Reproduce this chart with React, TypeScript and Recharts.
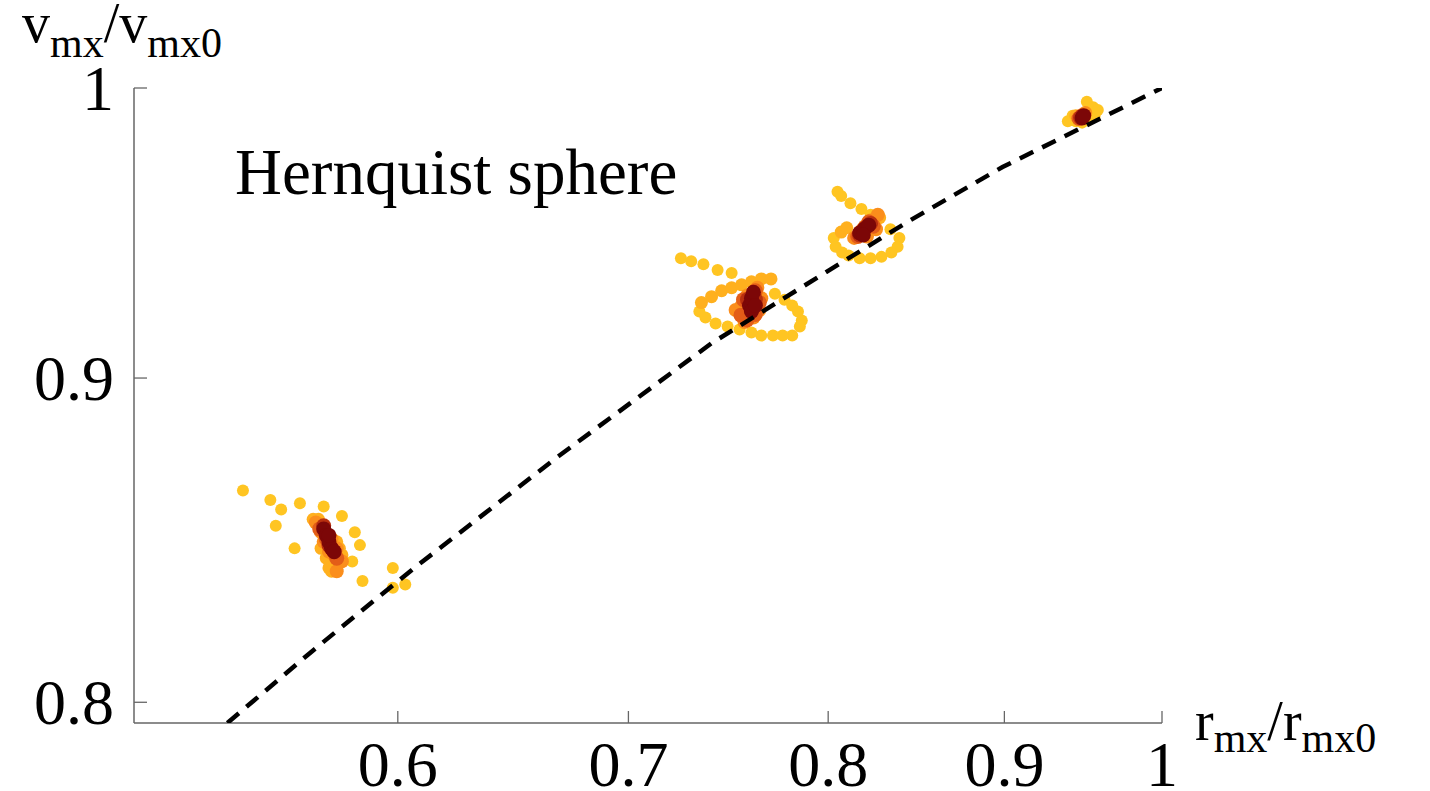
import { ScatterChart, Scatter, XAxis, YAxis, Label, Customized } from "recharts";

// [r_mx/r_mx0, v_mx/v_mx0, stage] — stage 0 is the earliest snapshot, 5 the latest
type TrackPoint = [number, number, number];

const xTicks = [0.6, 0.7, 0.8, 0.9, 1];
const yTicks = [0.8, 0.9, 1];

const stageColors = ["#FFC522", "#FFB01E", "#FB8E1C", "#E35D18", "#B8300F", "#7C0707"];
const stageRadius = [6, 6.5, 7, 7.5, 7.5, 7.5];

const trackA: TrackPoint[] = [
  [0.541, 0.864, 0], [0.551, 0.861, 0], [0.555, 0.858, 0], [0.562, 0.86, 0], [0.571, 0.859, 0],
  [0.553, 0.853, 0], [0.56, 0.846, 0], [0.578, 0.856, 0], [0.583, 0.851, 0], [0.585, 0.847, 0],
  [0.582, 0.842, 0], [0.586, 0.836, 0], [0.598, 0.84, 0], [0.598, 0.834, 0], [0.603, 0.835, 0],
  [0.567, 0.855, 1], [0.569, 0.855, 1], [0.571, 0.853, 1], [0.57, 0.846, 1], [0.572, 0.843, 1],
  [0.573, 0.84, 1], [0.575, 0.84, 1], [0.574, 0.839, 1], [0.578, 0.844, 1], [0.577, 0.846, 1],
  [0.576, 0.848, 1],
  [0.568, 0.854, 2], [0.57, 0.851, 2], [0.571, 0.848, 2], [0.573, 0.845, 2], [0.575, 0.844, 2],
  [0.574, 0.849, 2], [0.576, 0.846, 2], [0.578, 0.842, 2], [0.576, 0.839, 2],
  [0.5695, 0.852, 3], [0.571, 0.852, 3], [0.572, 0.849, 3], [0.574, 0.846, 3], [0.575, 0.845, 3],
  [0.576, 0.843, 3],
  [0.571, 0.853, 4], [0.573, 0.847, 4],
  [0.571, 0.852, 5], [0.572, 0.85, 5], [0.573, 0.848, 5], [0.574, 0.846, 5], [0.575, 0.845, 5],
  [0.573, 0.85, 5],
];

const trackB: TrackPoint[] = [
  [0.725, 0.94, 0], [0.73, 0.939, 0], [0.736, 0.938, 0], [0.743, 0.936, 0], [0.75, 0.935, 0],
  [0.772, 0.928, 0], [0.777, 0.926, 0], [0.781, 0.924, 0], [0.784, 0.922, 0], [0.786, 0.919, 0],
  [0.785, 0.917, 0], [0.781, 0.914, 0], [0.776, 0.914, 0], [0.771, 0.914, 0], [0.765, 0.914, 0],
  [0.76, 0.915, 0], [0.754, 0.916, 0], [0.748, 0.917, 0], [0.742, 0.918, 0], [0.737, 0.92, 0],
  [0.734, 0.922, 0],
  [0.735, 0.925, 1], [0.74, 0.927, 1], [0.745, 0.929, 1], [0.75, 0.93, 1], [0.755, 0.931, 1],
  [0.76, 0.932, 1], [0.765, 0.933, 1], [0.77, 0.933, 1],
  [0.752, 0.9225, 2], [0.7565, 0.9185, 2], [0.755, 0.924, 2], [0.758, 0.921, 2], [0.761, 0.92, 2],
  [0.764, 0.9225, 2], [0.765, 0.9265, 2], [0.763, 0.93, 2], [0.758, 0.9275, 2], [0.756, 0.926, 2],
  [0.7547, 0.9208, 3], [0.7577, 0.9192, 3], [0.756, 0.926, 3], [0.759, 0.922, 3], [0.762, 0.921, 3],
  [0.764, 0.925, 3], [0.762, 0.929, 3], [0.759, 0.9265, 3],
  [0.758, 0.926, 4], [0.76, 0.9225, 4], [0.762, 0.926, 4],
  [0.759, 0.924, 5], [0.76, 0.9265, 5], [0.761, 0.9285, 5], [0.76, 0.922, 5], [0.762, 0.924, 5],
];

const trackC: TrackPoint[] = [
  [0.805, 0.963, 0], [0.807, 0.9615, 0], [0.812, 0.959, 0], [0.818, 0.957, 0], [0.823, 0.955, 0],
  [0.834, 0.95, 0], [0.839, 0.947, 0], [0.838, 0.944, 0], [0.8345, 0.942, 0], [0.829, 0.9405, 0],
  [0.823, 0.94, 0], [0.817, 0.94, 0], [0.811, 0.941, 0], [0.8075, 0.942, 0], [0.804, 0.944, 0],
  [0.803, 0.947, 0],
  [0.807, 0.949, 1], [0.81, 0.9505, 1], [0.828, 0.954, 1],
  [0.814, 0.947, 2], [0.817, 0.949, 2], [0.82, 0.951, 2], [0.823, 0.953, 2], [0.827, 0.955, 2],
  [0.821, 0.9475, 2], [0.826, 0.95, 2],
  [0.816, 0.9475, 3], [0.819, 0.95, 3], [0.822, 0.9525, 3], [0.8245, 0.951, 3],
  [0.817, 0.948, 4], [0.82, 0.9505, 4], [0.823, 0.952, 4],
  [0.817, 0.9487, 5], [0.8195, 0.95, 5], [0.822, 0.9514, 5], [0.819, 0.948, 5],
];

const trackD: TrackPoint[] = [
  [0.951, 0.995, 0], [0.955, 0.993, 0], [0.958, 0.992, 0], [0.956, 0.99, 0], [0.953, 0.989, 0],
  [0.948, 0.9875, 0], [0.944, 0.988, 0], [0.939, 0.988, 0], [0.942, 0.99, 0],
  [0.944, 0.99, 1],
  [0.947, 0.9895, 2], [0.95, 0.991, 2],
  [0.946, 0.989, 3], [0.948, 0.99, 3],
  [0.947, 0.9893, 4],
  [0.948, 0.9892, 5], [0.949, 0.99, 5],
];

// tidal track relation, sampled along the curve
const trackR = [0.5354, 0.5657, 0.5921, 0.6082, 0.668, 0.7401, 0.7989, 0.8435, 0.8989, 0.9933, 1];
const trackV = [0.794, 0.8144, 0.8311, 0.8409, 0.8748, 0.9115, 0.9353, 0.9525, 0.9717, 0.9982, 1];

const tracks = [trackA, trackB, trackC, trackD];

const SERIF = "'Liberation Serif', 'Times New Roman', serif";
const AXIS = "#666";

const toRows = (t: TrackPoint[]) => t.map(([r, v, s]) => ({ r, v, s }));
const relation = trackR.map((r, i) => ({ r, v: trackV[i] }));

const Dot = (props: any) => (
  <circle
    cx={props.cx}
    cy={props.cy}
    r={stageRadius[props.payload.s]}
    fill={stageColors[props.payload.s]}
  />
);

const XTick = ({ x, y, payload }: any) => (
  <g>
    <line x1={x} x2={x} y1={y} y2={y - 12} stroke={AXIS} strokeWidth={1.3} />
    <text x={x} y={y + 63} textAnchor="middle" fontFamily={SERIF} fontSize={64} fill="#000">
      {String(payload.value)}
    </text>
  </g>
);

const YTick = ({ x, y, payload }: any) => (
  <g>
    <line x1={x} x2={x + 13} y1={y} y2={y} stroke={AXIS} strokeWidth={1.3} />
    <text x={x - 20} y={y + 22} textAnchor="end" fontFamily={SERIF} fontSize={64} fill="#000">
      {String(payload.value)}
    </text>
  </g>
);

const YTitle = ({ viewBox }: any) => (
  <text x={22} y={viewBox.y - 46} fontFamily={SERIF} fontSize={56} fill="#000">
    v<tspan fontSize={42} dy={15}>mx</tspan>
    <tspan fontSize={56} dy={-15}>/v</tspan>
    <tspan fontSize={42} dy={15}>mx0</tspan>
  </text>
);

const XTitle = ({ viewBox }: any) => (
  <text x={viewBox.x + viewBox.width + 33} y={viewBox.y + 17} fontFamily={SERIF} fontSize={56} fill="#000">
    r<tspan fontSize={42} dy={12}>mx</tspan>
    <tspan fontSize={56} dy={-12}>/r</tspan>
    <tspan fontSize={42} dy={12}>mx0</tspan>
  </text>
);

const Caption = () => (
  <text x={235} y={194} fontFamily={SERIF} fontSize={65} fill="#000">
    Hernquist sphere
  </text>
);

export default function App() {
  return (
    <div style={{ position: "absolute", left: 0, top: 0, background: "#fff" }}>
      <ScatterChart width={1430} height={791} margin={{ top: 88, right: 268, bottom: 0, left: 0 }}>
        <XAxis
          type="number"
          dataKey="r"
          scale="log"
          domain={[0.503, 1]}
          allowDataOverflow
          ticks={xTicks}
          height={68}
          tickSize={0}
          tickMargin={0}
          tick={<XTick />}
          tickLine={false}
          axisLine={{ stroke: AXIS, strokeWidth: 1.5 }}
        >
          <Label content={<XTitle />} />
        </XAxis>
        <YAxis
          type="number"
          dataKey="v"
          scale="log"
          domain={[0.794, 1]}
          allowDataOverflow
          ticks={yTicks}
          width={134}
          tickSize={0}
          tickMargin={0}
          tick={<YTick />}
          tickLine={false}
          axisLine={{ stroke: AXIS, strokeWidth: 1.5 }}
        >
          <Label content={<YTitle />} />
        </YAxis>
        {tracks.map((t, i) => (
          <Scatter key={i} data={toRows(t)} shape={<Dot />} isAnimationActive={false} />
        ))}
        <Scatter
          data={relation}
          line={{ stroke: "#000", strokeWidth: 4.5, strokeDasharray: "15 10" }}
          shape={() => <g />}
          isAnimationActive={false}
        />
        <Customized component={<Caption />} />
      </ScatterChart>
    </div>
  );
}
